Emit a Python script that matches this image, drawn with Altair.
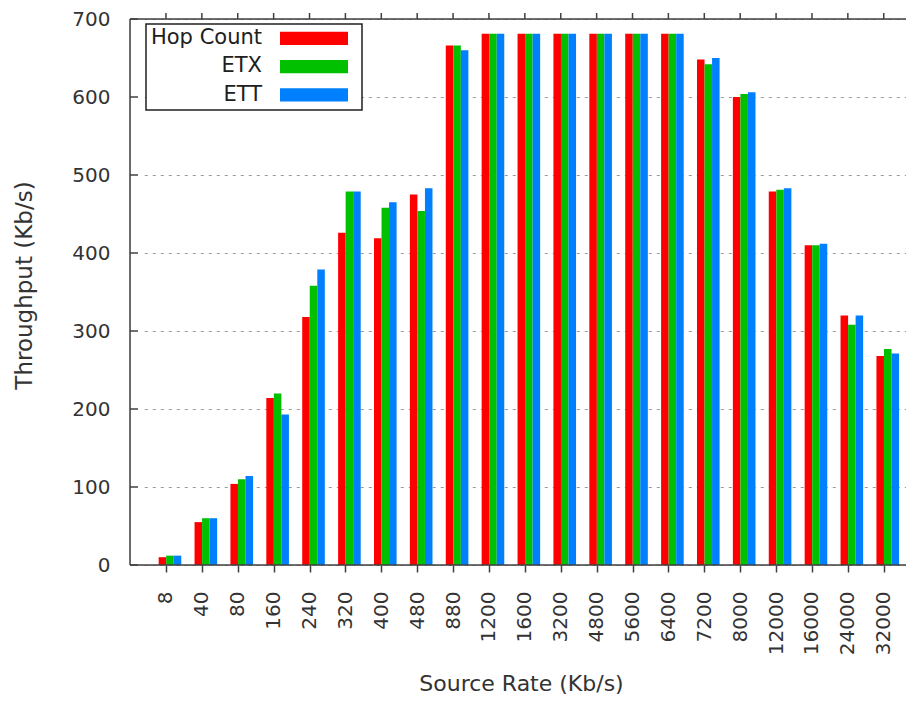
import altair as alt
import pandas as pd

# ---- data ----
rates = ["8", "40", "80", "160", "240", "320", "400", "480", "880", "1200", "1600",
         "3200", "4800", "5600", "6400", "7200", "8000", "12000", "16000", "24000", "32000"]
series = ["Hop Count", "ETX", "ETT"]
hop_count = [10, 55, 104, 214, 318, 426, 419, 475, 666, 681, 681, 681, 681, 681, 681, 648, 600, 479, 410, 320, 268]
etx = [12, 60, 110, 220, 358, 479, 458, 454, 666, 681, 681, 681, 681, 681, 681, 642, 604, 481, 410, 308, 277]
ett = [12, 60, 114, 193, 379, 479, 465, 483, 660, 681, 681, 681, 681, 681, 681, 650, 606, 483, 412, 320, 271]
colors = ["#ff0000", "#00c000", "#0080ff"]
y_ticks = [0, 100, 200, 300, 400, 500, 600, 700]

rows = []
for name, vals in zip(series, [hop_count, etx, ett]):
    for r, v in zip(rates, vals):
        rows.append({"rate": r, "series": name, "value": v})
df = pd.DataFrame(rows)

W, H = 776, 546
FONT = "DejaVu Sans"
TXT = "#333333"
AX = "#404040"

x_scale = alt.Scale(domain=rates, range=[14.3, 783.4], paddingInner=0.37, paddingOuter=0.4)
y_scale = alt.Scale(domain=[0, 700], nice=False, zero=True)

x_axis = alt.Axis(title="Source Rate (Kb/s)", labelAngle=270, labelAlign="right",
                  labelBaseline="middle", labelPadding=19, tickSize=7, tickOffset=-4,
                  tickColor=AX, tickWidth=1.5, domain=False, grid=False,
                  labelOverlap=False, labelFont=FONT, labelFontSize=20, labelColor=TXT,
                  titleFont=FONT, titleFontSize=22, titleFontWeight="normal",
                  titleColor=TXT, titleX=391, titleY=118, titleAlign="center",
                  titleBaseline="middle")
y_axis = alt.Axis(title="Throughput (Kb/s)", values=y_ticks, ticks=False, tickSize=0,
                  labelPadding=20, domain=False, grid=True, gridDash=[3, 5],
                  gridColor="#9a9a9a", gridWidth=1, labelFont=FONT, labelFontSize=20,
                  labelColor=TXT, titleFont=FONT, titleFontSize=23,
                  titleFontWeight="normal", titleColor=TXT, titleX=-106, titleY=266,
                  titleAngle=270, titleAlign="center", titleBaseline="middle")

bars = alt.Chart(df).mark_bar(strokeWidth=0).encode(
    x=alt.X("rate:N", scale=x_scale, axis=x_axis),
    xOffset=alt.XOffset("series:N", scale=alt.Scale(domain=series, paddingInner=0, paddingOuter=0)),
    y=alt.Y("value:Q", scale=y_scale, axis=y_axis),
    color=alt.Color("series:N", scale=alt.Scale(domain=series, range=colors), legend=None),
)

one = pd.DataFrame({"a": [0]})

bottom_line = alt.Chart(one).mark_rule(color=AX, strokeWidth=1.5).encode(
    x=alt.value(0), x2=alt.value(W), y=alt.value(H))
top_line = alt.Chart(one).mark_rule(color=AX, strokeWidth=1.5).encode(
    x=alt.value(0), x2=alt.value(W), y=alt.value(0))
left_line = alt.Chart(one).mark_rule(color=AX, strokeWidth=1.5).encode(
    x=alt.value(0), y=alt.value(0), y2=alt.value(H))

y_in_ticks = alt.Chart(pd.DataFrame({"value": y_ticks})).mark_rule(color=AX, strokeWidth=1.5).encode(
    y=alt.Y("value:Q", scale=y_scale, axis=y_axis), x=alt.value(0), x2=alt.value(8))

top_ticks = alt.Chart(pd.DataFrame({"rate": rates})).mark_rule(color=AX, strokeWidth=1.5).encode(
    x=alt.X("rate:N", scale=x_scale, axis=x_axis, bandPosition=0.323),
    y=alt.value(-6), y2=alt.value(0))

legend_box = alt.Chart(one).mark_rect(fill="white", stroke="#202020", strokeWidth=1.5).encode(
    x=alt.value(16), x2=alt.value(232), y=alt.value(5), y2=alt.value(91))

legend_layers = [legend_box]
for i, (name, col) in enumerate(zip(series, colors)):
    y0 = 12.7 + i * 28.3
    ldf = pd.DataFrame({"series": [name]})
    legend_layers.append(
        alt.Chart(ldf).mark_rect(fill=col).encode(
            x=alt.value(150), x2=alt.value(218), y=alt.value(y0), y2=alt.value(y0 + 13.3)))
    legend_layers.append(
        alt.Chart(ldf).mark_text(align="right", baseline="middle", font=FONT, fontSize=21,
                                 color="#202020").encode(
            x=alt.value(132), y=alt.value(y0 + 6.2), text="series:N"))

chart = alt.layer(bars, y_in_ticks, top_ticks, bottom_line, top_line, left_line,
                  *legend_layers).properties(
    width=W, height=H,
    padding={"left": 122, "top": 11, "right": 0, "bottom": 130},
    autosize="none",
).configure_view(strokeWidth=0).configure(background="white")

chart.save("out.html", embed_options={"renderer": "svg", "actions": False})
